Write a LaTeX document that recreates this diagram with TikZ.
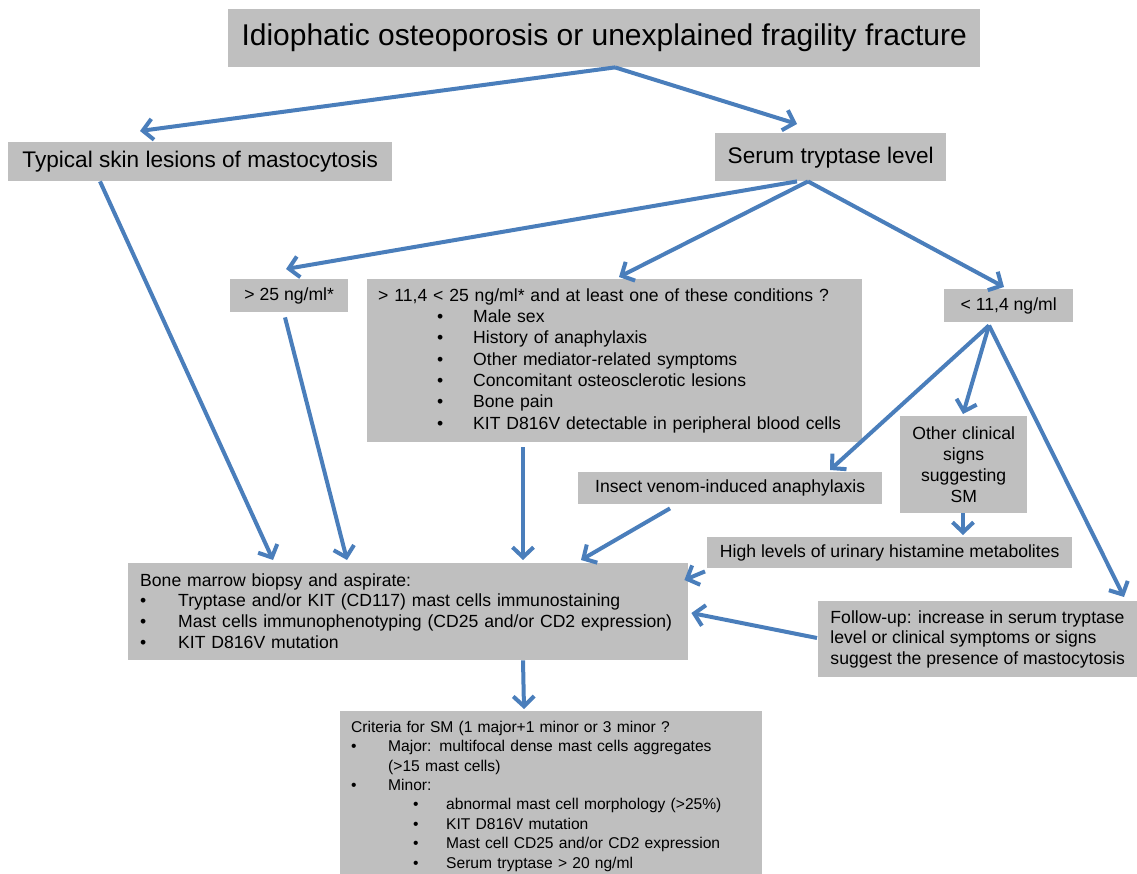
\documentclass[tikz,border=0pt]{standalone}
\usepackage{fontspec}
\setmainfont{Liberation Sans}
\usetikzlibrary{arrows.meta}
\definecolor{boxgray}{RGB}{191,191,191}
\definecolor{arrowblue}{RGB}{74,126,187}
\newcommand{\itemdot}[2]{\makebox[#2][l]{\hspace*{#1}\textbullet}}
\tikzset{
  box/.style={fill=boxgray, anchor=north west, inner sep=0pt, align=center},
  arr/.style={draw=arrowblue, line width=4pt, -{Straight Barb[length=10pt,width=21pt]}},
  big/.style={font=\fontsize{22.6}{26}\selectfont},
  small/.style={font=\fontsize{17.6}{21}\selectfont}
}

\begin{document}
\begin{tikzpicture}[x=1pt,y=-1pt]
\useasboundingbox (0,0) rectangle (1137,874);

\node[box, font=\fontsize{30}{34}\selectfont, minimum width=752pt, minimum height=58pt] (title) at (228,9) {Idiophatic osteoporosis or unexplained fragility fracture};
\node[box, big, minimum width=384pt, minimum height=39pt] (skin) at (8,142) {Typical skin lesions of mastocytosis};
\node[box, big, minimum width=231pt, minimum height=48pt] (serum) at (715,133) {Serum tryptase level};

\node[box, small, minimum width=118pt, minimum height=33pt] (high25) at (230,279) {> 25 ng/ml*};
\node[box, font=\fontsize{17.6}{21.3}\selectfont, minimum width=495pt, minimum height=163pt, text width=473pt, align=left] (mid) at (367,279)
  {> 11,4 < 25 ng/ml* and at least one of these conditions ?\\
   \itemdot{59pt}{95pt}Male sex\\
   \itemdot{59pt}{95pt}History of anaphylaxis\\
   \itemdot{59pt}{95pt}Other mediator-related symptoms\\
   \itemdot{59pt}{95pt}Concomitant osteosclerotic lesions\\
   \itemdot{59pt}{95pt}Bone pain\\
   \itemdot{59pt}{95pt}KIT D816V detectable in peripheral blood cells};
\node[box, small, minimum width=129pt, minimum height=33pt] (low) at (944,289) {< 11,4 ng/ml};

\node[box, small, minimum width=127pt, minimum height=97pt, text width=120pt] (other) at (900,416) {Other clinical\\ signs\\ suggesting\\ SM};
\node[box, small, minimum width=304pt, minimum height=32pt] (venom) at (578,472) {Insect venom-induced anaphylaxis};
\node[box, small, minimum width=365pt, minimum height=31pt] (urine) at (707,537) {High levels of urinary histamine metabolites};
\node[box, font=\fontsize{17.6}{20.5}\selectfont, minimum width=319pt, minimum height=76pt, align=left] (follow) at (818,601)
  {Follow-up: increase in serum tryptase\\ level or clinical symptoms or signs\\ suggest the presence of mastocytosis};

\node[box, font=\fontsize{17.6}{20.7}\selectfont, minimum width=560pt, text width=536pt, align=left, text height=23pt, text depth=74pt] (marrow) at (128,563)
  {Bone marrow biopsy and aspirate:\\
   \mbox{\itemdot{0pt}{38pt}Tryptase and/or KIT (CD117) mast cells immunostaining}\\
   \mbox{\itemdot{0pt}{38pt}Mast cells immunophenotyping (CD25 and/or CD2 expression)}\\
   \mbox{\itemdot{0pt}{38pt}KIT D816V mutation}};
\node[box, font=\fontsize{15.6}{19.4}\selectfont, minimum width=422pt, text width=400pt, align=left, text height=21pt, text depth=150pt] (crit) at (340,711)
  {Criteria for SM (1 major+1 minor or 3 minor ?\\
   \itemdot{0pt}{37pt}Major: multifocal dense mast cells aggregates\\
   \hspace*{37pt}(>15 mast cells)\\
   \itemdot{0pt}{37pt}Minor:\\
   \itemdot{62pt}{95pt}abnormal mast cell morphology (>25\%)\\
   \itemdot{62pt}{95pt}KIT D816V mutation\\
   \itemdot{62pt}{95pt}Mast cell CD25 and/or CD2 expression\\
   \itemdot{62pt}{95pt}Serum tryptase > 20 ng/ml};

\draw[arr] ([shift={(387,0)}]title.south west) -- ([shift={(132,-11)}]skin.north west);
\draw[arr] ([shift={(387,0)}]title.south west) -- ([shift={(82,-9)}]serum.north west);
\draw[arr] ([shift={(92,0)}]skin.south west) -- ([shift={(145,-3)}]marrow.north west);
\draw[arr] ([shift={(82,0)}]serum.south west) -- ([shift={(56,-10)}]high25.north west);
\draw[arr] ([shift={(93,0)}]serum.south west) -- ([shift={(252,-2)}]mid.north west);
\draw[arr] ([shift={(93,0)}]serum.south west) -- ([shift={(60,-2)}]low.north west);
\draw[arr] ([shift={(55,5)}]high25.south west) -- ([shift={(219,-3)}]marrow.north west);
\draw[arr] ([shift={(156,5)}]mid.south west) -- ([shift={(395,-3)}]marrow.north west);
\draw[arr] ([shift={(92,4)}]venom.south west) -- ([shift={(453,-3)}]marrow.north west);
\draw[arr] ([shift={(45,3)}]low.south west) -- ([shift={(252,-2)}]venom.north west);
\draw[arr] ([shift={(45,3)}]low.south west) -- ([shift={(63,-2)}]other.north west);
\draw[arr] ([shift={(45,3)}]low.south west) -- ([shift={(306,-4)}]follow.north west);
\draw[arr] ([shift={(63,0)}]other.south west) -- ([shift={(256,-2)}]urine.north west);
\draw[arr] ([shift={(-2,3)}]urine.south west) -- ([shift={(-4,17)}]marrow.north east);
\draw[arr] ([shift={(-1,37)}]follow.north west) -- ([shift={(3,50)}]marrow.north east);
\draw[arr] ([shift={(395,0)}]marrow.south west) -- ([shift={(184,-2)}]crit.north west);
\end{tikzpicture}
\end{document}
